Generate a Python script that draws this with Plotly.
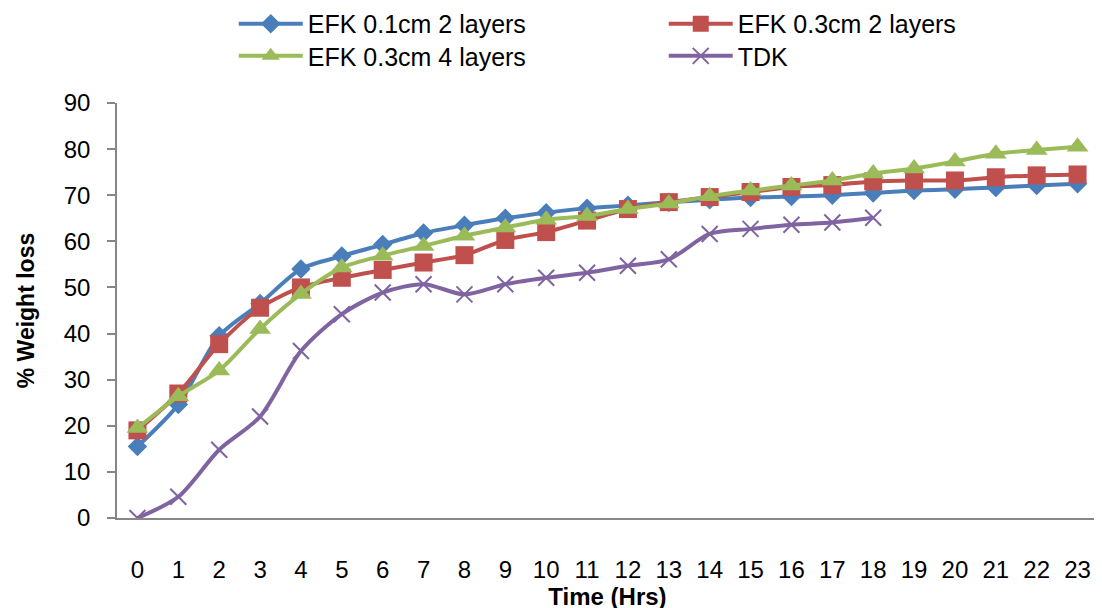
import plotly.graph_objects as go

hours = list(range(24))
tick_labels = [str(h) for h in hours]

efk_01_2 = [15.5, 24.6, 39.5, 46.5, 54.0, 56.8, 59.3, 61.8, 63.5, 65.0, 66.2, 67.2,
            67.8, 68.5, 69.0, 69.5, 69.7, 70.0, 70.5, 71.0, 71.3, 71.7, 72.1, 72.5]
efk_03_2 = [19.0, 27.0, 37.7, 45.6, 50.0, 52.1, 53.8, 55.4, 57.0, 60.3, 62.0, 64.5,
            67.0, 68.5, 69.6, 70.7, 71.8, 72.2, 73.0, 73.2, 73.2, 73.9, 74.3, 74.5]
efk_03_4 = [19.5, 26.4, 32.0, 41.0, 48.6, 54.3, 56.9, 59.0, 61.2, 63.0, 64.7, 65.5,
            67.0, 68.2, 69.8, 71.0, 72.1, 73.2, 74.7, 75.8, 77.3, 79.0, 79.8, 80.5]
tdk_hours = list(range(19))
tdk = [0.0, 4.6, 14.8, 22.0, 36.2, 44.2, 48.9, 50.7, 48.5, 50.7, 52.1, 53.2,
       54.7, 56.1, 61.6, 62.7, 63.6, 64.1, 65.1]

FONT = "Liberation Sans, Arial, sans-serif"

fig = go.Figure()
fig.add_trace(go.Scatter(x=hours, y=efk_01_2, name="EFK 0.1cm 2 layers", mode="lines+markers",
                         line=dict(color="#4A7EBB", width=4, shape="spline", smoothing=0.8),
                         marker=dict(symbol="diamond", size=15, color="#4A7EBB"),
                         legend="legend"))
fig.add_trace(go.Scatter(x=hours, y=efk_03_2, name="EFK 0.3cm 2 layers", mode="lines+markers",
                         line=dict(color="#C0504D", width=4, shape="spline", smoothing=0.8),
                         marker=dict(symbol="square", size=18, color="#C0504D"),
                         legend="legend"))
fig.add_trace(go.Scatter(x=hours, y=efk_03_4, name="EFK 0.3cm 4 layers", mode="lines+markers",
                         line=dict(color="#9BBB59", width=4, shape="spline", smoothing=0.8),
                         marker=dict(symbol="triangle-up", size=19, color="#9BBB59"),
                         legend="legend2"))
fig.add_trace(go.Scatter(x=tdk_hours, y=tdk, name="TDK", mode="lines+markers",
                         line=dict(color="#8064A2", width=4, shape="spline", smoothing=0.8),
                         marker=dict(symbol="x-thin-open", size=16, color="#8064A2",
                                     line=dict(width=2, color="#8064A2")),
                         legend="legend2"))

legend_common = dict(orientation="h", xanchor="left", yanchor="middle",
                     x=0.119, font=dict(family=FONT, size=25, color="#000000"),
                     itemwidth=64, entrywidth=351, entrywidthmode="pixels",
                     bgcolor="rgba(0,0,0,0)")

fig.update_layout(
    width=1102, height=608,
    margin=dict(l=109, r=12, t=95, b=98, autoexpand=False),
    paper_bgcolor="white", plot_bgcolor="white",
    font=dict(family=FONT, size=23, color="#000000"),
    showlegend=True,
    legend=dict(y=1.1905, **legend_common),
    legend2=dict(y=1.113, **legend_common),
    xaxis=dict(
        range=[-0.5, 23.5], tickmode="array", tickvals=hours, ticktext=tick_labels,
        showgrid=False, zeroline=False, showline=True, linecolor="#868686", linewidth=1.5,
        ticks="", ticklabelstandoff=29, tickfont=dict(family=FONT, size=24),
        title=dict(text="<b>Time (Hrs)</b>", font=dict(family=FONT, size=24), standoff=0),
        automargin=False,
    ),
    yaxis=dict(
        range=[0, 90], dtick=10, showgrid=False, zeroline=False,
        showline=True, linecolor="#868686", linewidth=1.5,
        ticks="outside", ticklen=8, tickcolor="#868686", tickwidth=1.5,
        ticklabelstandoff=12, tickfont=dict(family=FONT, size=24),
        title=dict(text="<b>% Weight loss</b>", font=dict(family=FONT, size=23), standoff=23),
        automargin=False,
    ),
)

fig.write_html("out.html")
